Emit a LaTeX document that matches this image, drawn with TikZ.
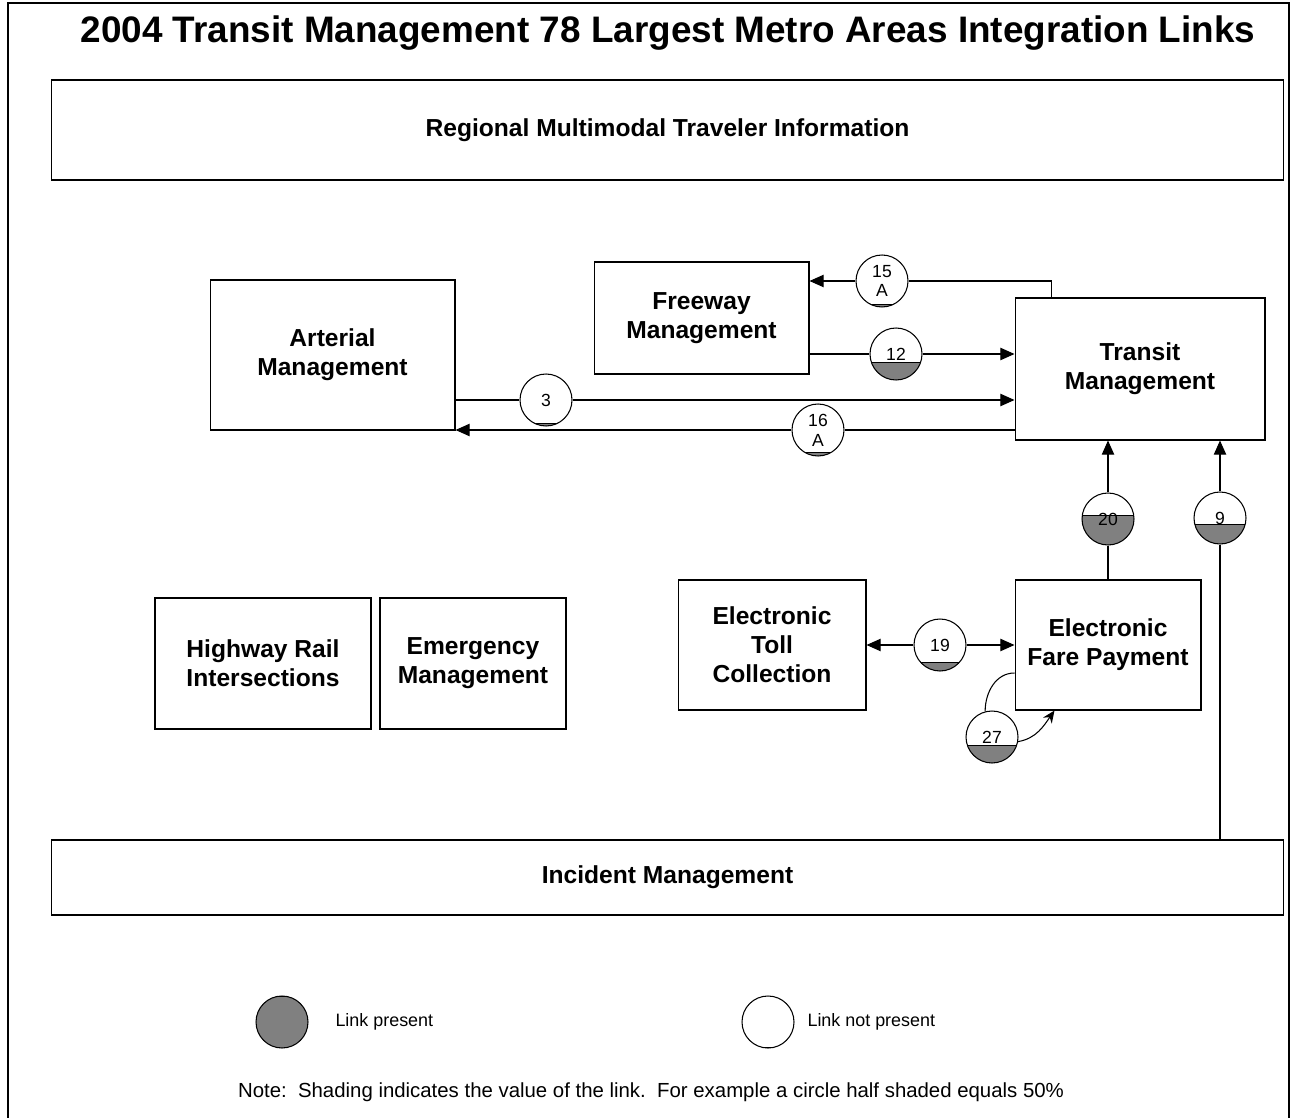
\documentclass[tikz,border=0pt]{standalone}
\usepackage{fontspec}
\setmainfont{Liberation Sans}
\usepackage{tikz}
\usetikzlibrary{arrows.meta,positioning,calc}

\definecolor{linkgray}{RGB}{128,128,128}

\begin{document}
\begin{tikzpicture}[x=0.02cm,y=-0.02cm,>={Triangle[length=8pt,width=7pt]},line width=.6pt,
  box/.style={draw,align=center,font=\fontsize{14}{16.5}\selectfont\bfseries,inner sep=0pt},
  link/.style={draw,circle,fill=white,minimum size=1.04cm,inner sep=0pt,align=center,
    font=\fontsize{10}{11.3}\selectfont,
    path picture={\fill[linkgray] (path picture bounding box.south west) rectangle
      ($(path picture bounding box.south east)!#1!(path picture bounding box.north east)$);
      \draw ($(path picture bounding box.south west)!#1!(path picture bounding box.north west)$) --
      ($(path picture bounding box.south east)!#1!(path picture bounding box.north east)$);}},
  legtxt/.style={font=\fontsize{10.2}{12}\selectfont,inner sep=0pt}]
\useasboundingbox (0,0) rectangle (1291,1118);
\draw[line width=1.2pt] (8,1118) |- (1289,3) -- (1289,1118);
\node[font=\fontsize{21}{25}\selectfont\bfseries] (title) at (668,33) {2004 Transit Management 78 Largest Metro Areas Integration Links};

% boxes
\node[box,minimum width=24.66cm,minimum height=2cm] (rmti) at (667.5,130) {Regional Multimodal Traveler Information};
\node[box,minimum width=4.3cm,minimum height=2.24cm] (fm) at (701.5,318) {Freeway\\Management};
\node[box,minimum width=4.9cm,minimum height=3cm] (am) at (332.5,355) {Arterial\\Management};
\node[box,minimum width=5cm,minimum height=2.84cm] (tm) at (1140,369) {Transit\\Management};
\node[box,minimum width=4.32cm,minimum height=2.62cm] (hri) at (263,663.5) {Highway Rail\\Intersections};
\node[box,minimum width=3.72cm,minimum height=2.62cm] (em) at (473,663.5) {Emergency\\Management};
\node[box,minimum width=3.76cm,minimum height=2.6cm] (etc) at (772,645) {Electronic\\Toll\\Collection};
\node[box,minimum width=3.72cm,minimum height=2.6cm] (efp) at (1108,645) {Electronic\\Fare Payment};
\node[box,minimum width=24.66cm,minimum height=1.5cm] (im) at (667.5,877.5) {Incident Management};

% links
\node[link=.04] (c15) at (882,281) {15\\A};
\node[link=.34] (c12) at (896,354) {12};
\node[link=.05] (c3) at (546,400) {3};
\node[link=.06] (c16) at (818,430) {16\\A};
\node[link=.56] (c20) at (1108,519) {20};
\node[link=.38] (c9) at (1220,518) {9};
\node[link=.16] (c19) at (940,645) {19};
\node[link=.34] (c27) at (992,737) {27};

\draw ([xshift=.74cm]tm.north west) |- (c15);
\draw[->] (c15) -- (fm.east |- c15);
\draw (fm.east |- c12) -- (c12);
\draw[->] (c12) -- (tm.west |- c12);
\draw (am.east |- c3) -- (c3);
\draw[->] (c3) -- (tm.west |- c3);
\draw (tm.west |- c16) -- (c16);
\draw[->] (c16) -- (am.east |- c16);
\draw (efp.north) -- (c20);
\draw[->] (c20) -- (c20 |- tm.south);
\draw (im.north -| c9) -- (c9);
\draw[->] (c9) -- (c9 |- tm.south);
\draw[->] (c19) -- (etc.east);
\draw[->] (c19) -- (efp.west);
\draw ([yshift=-.56cm]efp.west) to[out=180,in=90] (c27.105);
\draw[-{Stealth[length=7pt,width=6pt]}] (c27.-10) to[out=10,in=-125] ([xshift=.8cm]efp.south west);

% legend
\node[link=1] (lp) at (282,1022) {};
\node[legtxt,anchor=west] (lptxt) at (335,1022) {Link present};
\node[link=0] (lnp) at (768,1022) {};
\node[legtxt,anchor=west] (lnptxt) at (807,1022) {Link not present};
\node[legtxt,font=\fontsize{11.6}{13}\selectfont] (note) at (651,1092) {Note:\ \ Shading indicates the value of the link.\ \ For example a circle half shaded equals 50\%};
\end{tikzpicture}
\end{document}
